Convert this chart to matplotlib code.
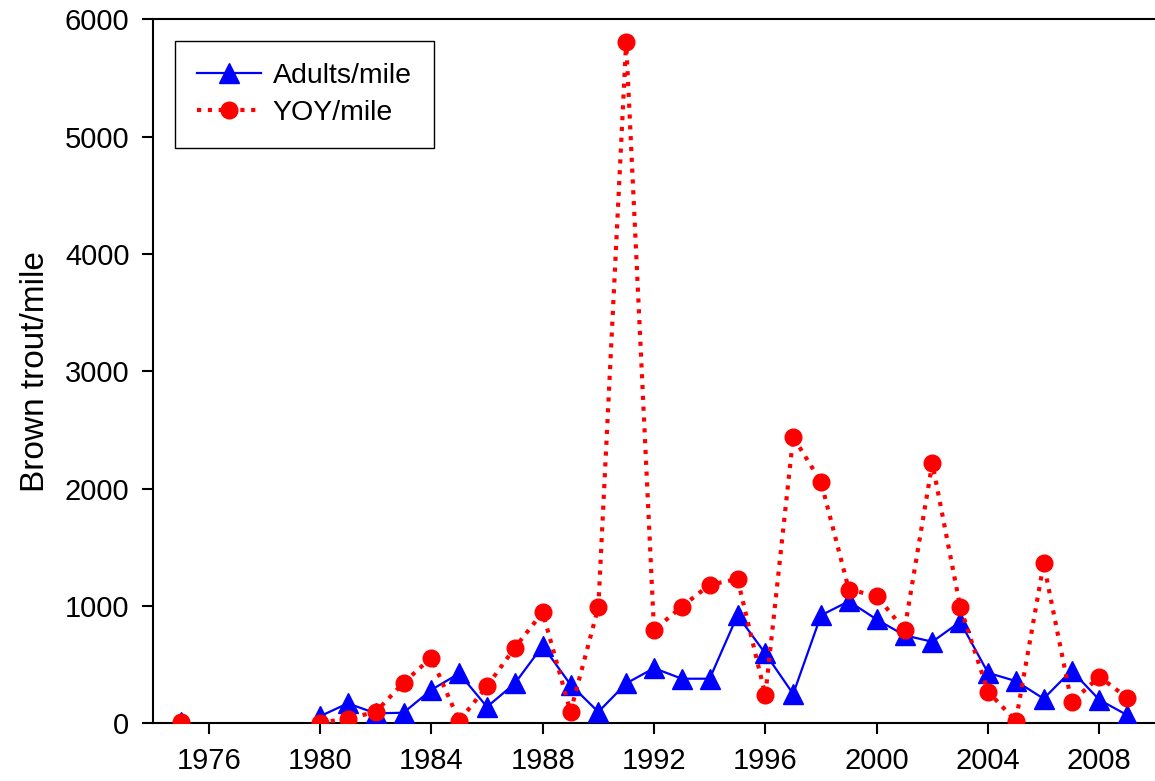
import numpy as np
import matplotlib
matplotlib.use("Agg")
import matplotlib.pyplot as plt

plt.rcParams["font.family"] = ["Liberation Sans", "DejaVu Sans"]

# dados (anos sem amostragem = NaN)
years = list(range(1975, 2010))
adults = [10, np.nan, np.nan, np.nan, np.nan,
          60, 170, 85, 90, 285, 425, 140, 340, 660, 330,
          97, 340, 470, 380, 380, 920, 595, 250, 920, 1040,
          885, 750, 695, 865, 430, 360, 210, 450, 200, 70]
yoy = [10, np.nan, np.nan, np.nan, np.nan,
       5, 40, 97, 345, 560, 20, 315, 645, 945, 97,
       990, 5810, 795, 995, 1180, 1230, 240, 2440, 2057, 1140,
       1085, 795, 2218, 994, 270, 20, 1362, 180, 397, 218]

xticks = [1976, 1980, 1984, 1988, 1992, 1996, 2000, 2004, 2008]
yticks = [0, 1000, 2000, 3000, 4000, 5000, 6000]

fig = plt.figure(figsize=(11.55, 7.81), dpi=100)
ax = fig.add_axes([153 / 1155, 1 - 723.3 / 781, 1 - 153 / 1155, (723.3 - 19.3) / 781])

ax.plot(years, adults, color="blue", lw=1.6, marker="^", ms=14.5,
        markeredgecolor="blue", label="Adults/mile", zorder=3)
ax.plot(years, yoy, color="red", lw=3, linestyle=(0, (1.0, 1.6)), marker="o", ms=12,
        markeredgecolor="red", label="YOY/mile", zorder=4)

ax.set_xlim(1974, 2010)
ax.set_ylim(0, 6000)
ax.set_xticks(xticks)
ax.set_yticks(yticks)
ax.tick_params(direction="out", length=8, width=1.5, labelsize=21, pad=9)
ax.tick_params(axis="x", pad=9)

for s in ["left", "bottom", "top"]:
    ax.spines[s].set_linewidth(1.5)
ax.spines["right"].set_visible(False)

ax.set_ylabel("Brown trout/mile", fontsize=24, labelpad=10)

leg = ax.legend(loc="upper left", bbox_to_anchor=(0.022, 0.969), fontsize=20.5,
                frameon=True, fancybox=False, edgecolor="black", framealpha=1,
                handlelength=2.25, handletextpad=0.4, labelspacing=0.36,
                borderpad=0.78, borderaxespad=0)
leg.get_frame().set_linewidth(1.0)

plt.savefig("out.png", dpi=100)
plt.close()
